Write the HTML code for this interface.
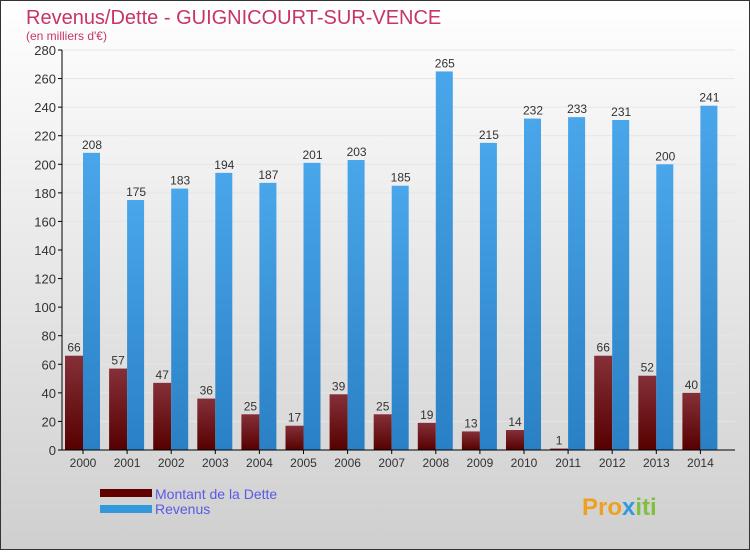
<!DOCTYPE html>
<html><head><meta charset="utf-8"><style>
body{margin:0;width:750px;height:550px;overflow:hidden;font-family:"Liberation Sans","DejaVu Sans",sans-serif}
</style></head><body>
<svg width="750" height="550" xmlns="http://www.w3.org/2000/svg">
<defs>
<linearGradient id="bg" x1="0" y1="0" x2="0" y2="1"><stop offset="0" stop-color="#ffffff"/><stop offset="1" stop-color="#cfcfcf"/></linearGradient>
<linearGradient id="gd" x1="0" y1="0" x2="0" y2="1"><stop offset="0" stop-color="#853038"/><stop offset="1" stop-color="#560000"/></linearGradient>
<linearGradient id="gr" x1="0" y1="0" x2="0" y2="1"><stop offset="0" stop-color="#4aa6ea"/><stop offset="1" stop-color="#2a80c4"/></linearGradient>
</defs>
<rect x="0.5" y="0.5" width="749" height="549" fill="url(#bg)" stroke="#333"/>
<text x="26" y="24" font-size="20" fill="#c8336a">Revenus/Dette - GUIGNICOURT-SUR-VENCE</text>
<text x="26" y="40" font-size="12" fill="#c8336a">(en milliers d'€)</text>
<g id="grid"></g>
<g id="bars"></g>
<line x1="62" y1="50" x2="62" y2="450" stroke="#000"/>
<line x1="62" y1="450" x2="735" y2="450" stroke="#000"/>
<rect x="100" y="489" width="52" height="8" fill="#600000"/>
<text x="155" y="499" font-size="14" fill="#5a5ae6">Montant de la Dette</text>
<rect x="100" y="505" width="52" height="8" fill="#3399dd"/>
<text x="155" y="514" font-size="14" fill="#5a5ae6">Revenus</text>
<text x="582" y="515" font-size="24" font-weight="bold" fill="#f0a020">Pro<tspan fill="#3399dd">x</tspan><tspan fill="#80c040">iti</tspan></text>
</svg>
<script>
const years=["2000","2001","2002","2003","2004","2005","2006","2007","2008","2009","2010","2011","2012","2013","2014"];
const dette=[66,57,47,36,25,17,39,25,19,13,14,1,66,52,40];
const revenus=[208,175,183,194,187,201,203,185,265,215,232,233,231,200,241];
const yTicks=[0,20,40,60,80,100,120,140,160,180,200,220,240,260,280];
const NS="http://www.w3.org/2000/svg";
const y=v=>450-v*400/280;
const xc=i=>83+i*44.1;
function mk(tag,a,parent,txt){const e=document.createElementNS(NS,tag);for(const k in a)e.setAttribute(k,a[k]);if(txt!==undefined)e.textContent=txt;parent.appendChild(e);return e;}
const grid=document.getElementById('grid'),bars=document.getElementById('bars');
yTicks.forEach(t=>{
 if(t>0){const l=mk('line',{x1:62,x2:735,y1:y(t),y2:y(t),stroke:'#e6e6e6'},grid);
 
 }
 const tk=mk('line',{x1:58,x2:62,y1:y(t),y2:y(t),stroke:'#000'},grid);
 
 
 const tx=mk('text',{x:56,y:y(t)+5,'font-size':13,fill:'#333','text-anchor':'end'},grid,String(t));
 
 
});
years.forEach((yr,i)=>{
 const c=xc(i);
 const d=mk('rect',{x:c-18,y:y(dette[i]),width:18,height:450-y(dette[i]),fill:'url(#gd)'},bars);
 
 
 const r=mk('rect',{x:c,y:y(revenus[i]),width:17,height:450-y(revenus[i]),fill:'url(#gr)'},bars);
 
 
 const dl=mk('text',{x:c-9,y:y(dette[i])-4,'font-size':12,fill:'#333','text-anchor':'middle'},bars,String(dette[i]));
 
 
 const rl=mk('text',{x:c+9,y:y(revenus[i])-4,'font-size':12,fill:'#333','text-anchor':'middle'},bars,String(revenus[i]));
 
 
 const tk=mk('line',{x1:c,x2:c,y1:450,y2:454,stroke:'#000'},bars);
 
 
 const xl=mk('text',{x:c,y:467,'font-size':12,fill:'#333','text-anchor':'middle'},bars,yr);
 
 
});
</script>
</body></html>
